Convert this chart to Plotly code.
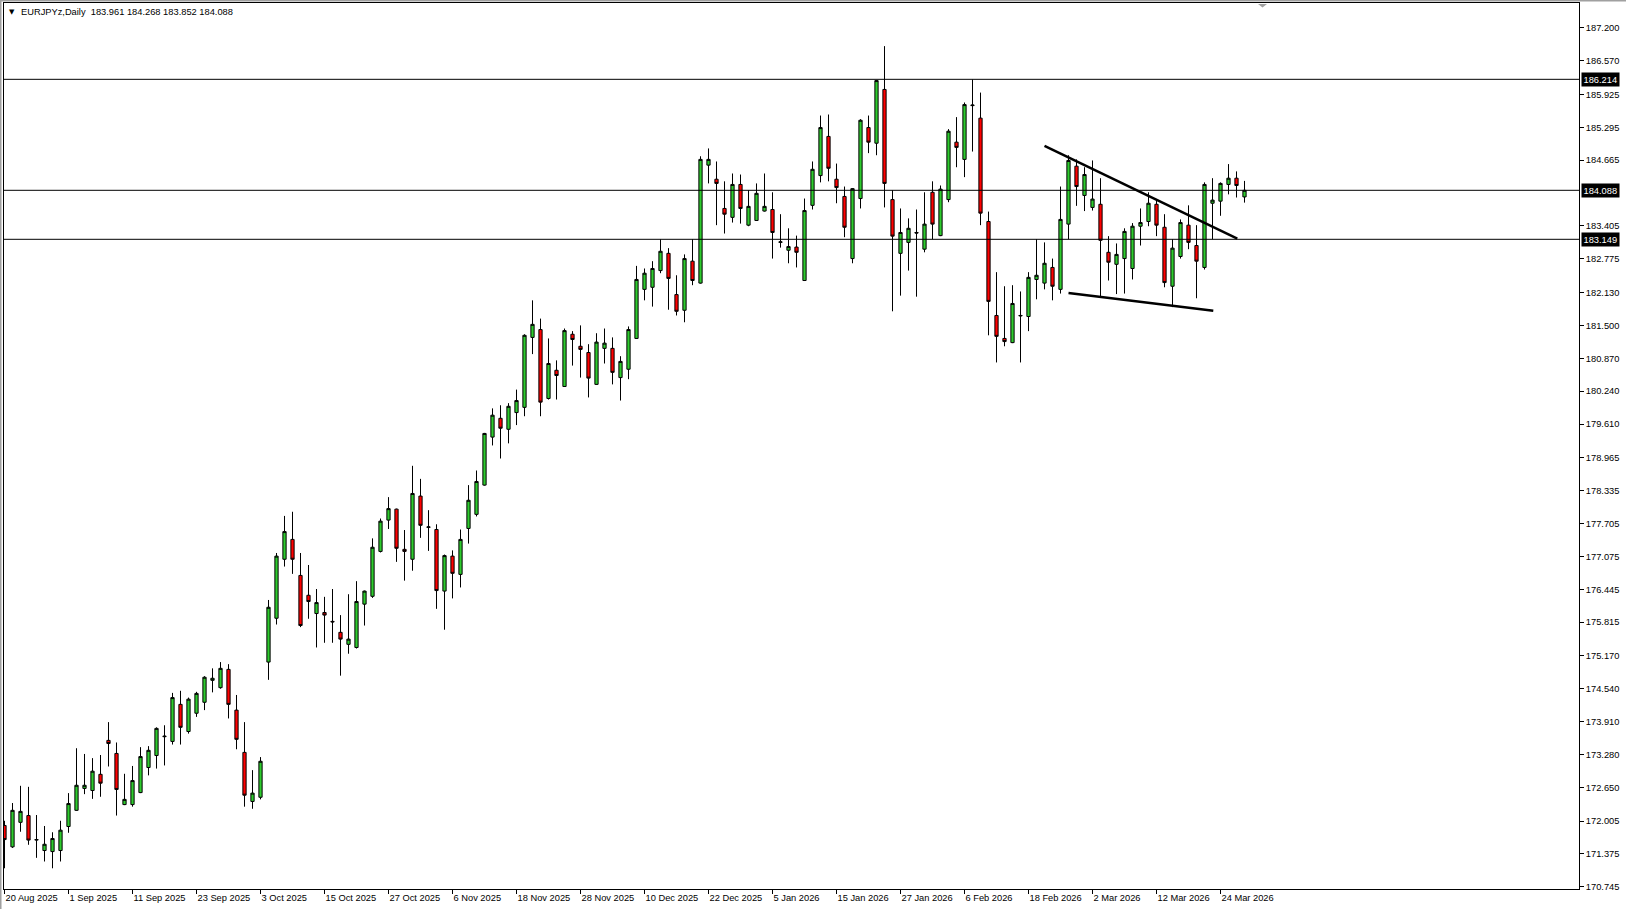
import plotly.graph_objects as go

# ---------------- data (EURJPYz, Daily) ----------------
open_ = [171.92, 171.51, 171.98, 172.11, 171.64, 171.44, 171.42, 171.44, 171.90, 172.21,
         172.63, 172.59, 172.90, 173.55, 173.30, 172.32, 172.32, 172.55, 173.03, 173.26,
         173.62, 173.53, 174.24, 173.72, 174.07, 174.28, 174.70, 174.56, 174.91, 174.13,
         173.32, 172.38, 172.46, 175.05, 175.89, 177.02, 177.40, 176.71, 176.33, 175.98,
         176.00, 175.83, 175.62, 175.39, 175.33, 176.16, 176.31, 177.17, 177.77, 177.98,
         177.21, 177.02, 178.23, 177.63, 177.59, 176.41, 177.08, 176.73, 177.61, 177.88,
         178.44, 179.36, 179.72, 179.51, 179.83, 179.93, 181.27, 181.42, 180.10, 180.64,
         180.33, 181.33, 181.10, 180.98, 180.37, 181.06, 181.06, 180.50, 180.66, 181.25,
         182.19, 182.23, 182.55, 182.88, 182.09, 181.79, 182.73, 182.31, 184.57, 184.30,
         183.74, 183.57, 184.20, 183.42, 183.51, 183.69, 183.72, 183.09, 182.94, 183.00,
         182.36, 183.80, 184.37, 185.12, 184.30, 183.97, 182.78, 183.93, 185.29, 184.99,
         186.02, 183.91, 182.88, 183.09, 183.28, 182.96, 184.05, 183.22, 183.91, 185.01,
         184.68, 185.71, 185.47, 183.49, 181.69, 181.25, 181.17, 181.68, 181.67, 182.38,
         182.31, 182.61, 182.19, 183.44, 184.55, 183.99, 183.76, 183.82, 182.90, 182.67,
         182.78, 182.59, 183.40, 183.49, 183.82, 183.38, 182.25, 182.82, 183.42, 183.03,
         182.61, 183.84, 183.88, 184.20, 184.32, 183.961]
high = [172.01, 172.35, 172.68, 172.66, 172.12, 171.91, 171.79, 172.01, 172.54, 173.40,
        173.29, 173.21, 173.27, 173.90, 173.51, 172.91, 173.06, 173.42, 173.44, 173.80,
        173.84, 174.46, 174.50, 174.37, 174.48, 174.78, 174.93, 175.05, 175.01, 174.42,
        173.90, 172.98, 173.23, 176.24, 177.14, 177.85, 177.93, 177.14, 176.91, 176.45,
        176.30, 176.45, 175.95, 176.35, 176.60, 176.42, 177.42, 177.80, 178.21, 177.99,
        177.58, 178.81, 178.56, 177.96, 177.69, 177.11, 177.19, 177.59, 178.44, 178.72,
        179.44, 179.91, 179.97, 180.01, 180.27, 181.33, 181.98, 181.63, 181.25, 180.83,
        181.44, 181.39, 181.50, 181.14, 181.35, 181.44, 181.27, 180.91, 181.48, 182.64,
        182.59, 182.73, 183.15, 182.98, 182.46, 182.86, 183.15, 184.74, 184.89, 184.64,
        184.26, 184.41, 184.39, 184.09, 184.22, 184.41, 184.05, 183.63, 183.36, 183.22,
        183.93, 184.64, 185.52, 185.54, 184.60, 184.16, 184.13, 185.45, 185.52, 186.20,
        186.85, 184.09, 183.74, 183.55, 183.72, 184.05, 184.26, 184.18, 185.26, 185.49,
        185.77, 186.21, 185.96, 183.68, 182.52, 182.25, 182.27, 182.15, 182.52, 183.15,
        183.09, 182.78, 184.16, 184.76, 184.68, 184.53, 184.66, 184.32, 183.21, 183.07,
        183.36, 183.46, 183.74, 184.05, 183.92, 183.63, 183.15, 183.53, 183.80, 183.42,
        184.24, 184.32, 184.24, 184.59, 184.45, 184.268]
low = [171.10, 171.49, 171.80, 171.55, 171.30, 171.23, 171.10, 171.23, 171.78, 172.20,
       172.52, 172.43, 172.47, 173.05, 172.11, 172.31, 172.28, 172.54, 172.88, 173.01,
       173.07, 173.47, 173.47, 173.68, 174.00, 174.13, 174.47, 174.54, 173.97, 173.38,
       172.28, 172.24, 172.42, 174.71, 175.77, 176.88, 176.74, 175.72, 175.88, 175.33,
       175.42, 175.42, 174.79, 175.21, 175.31, 175.75, 176.28, 177.15, 177.60, 176.97,
       176.61, 176.80, 177.43, 177.18, 176.07, 175.67, 176.27, 176.48, 177.32, 177.84,
       178.43, 179.20, 178.95, 179.24, 179.59, 179.76, 180.95, 179.76, 180.08, 180.08,
       180.32, 180.73, 180.50, 180.12, 180.36, 180.77, 180.37, 180.06, 180.47, 181.24,
       181.98, 181.86, 182.50, 181.80, 181.69, 181.56, 182.27, 182.30, 184.22, 183.42,
       183.26, 183.47, 183.45, 183.40, 183.50, 183.68, 182.78, 182.99, 182.69, 182.61,
       182.35, 183.72, 184.24, 184.26, 183.84, 183.19, 182.69, 183.74, 184.80, 184.76,
       183.76, 181.77, 182.07, 182.55, 182.05, 182.90, 183.15, 183.21, 183.86, 184.53,
       184.34, 184.83, 183.42, 181.31, 180.79, 181.10, 181.16, 180.79, 181.39, 182.00,
       182.19, 181.98, 182.11, 183.15, 183.79, 183.69, 183.70, 182.04, 182.36, 182.10,
       182.11, 182.38, 183.03, 183.40, 183.21, 182.23, 181.85, 182.78, 182.96, 182.02,
       182.57, 183.15, 183.60, 184.01, 183.95, 183.852]
close = [171.65, 172.21, 172.19, 171.64, 171.65, 171.56, 171.67, 171.83, 172.34, 172.69,
         172.69, 172.96, 172.73, 173.49, 172.61, 172.42, 172.78, 173.24, 173.36, 173.78,
         173.63, 174.37, 173.80, 174.34, 174.45, 174.76, 174.74, 174.93, 174.24, 173.57,
         172.50, 172.54, 173.15, 176.10, 177.08, 177.55, 177.02, 175.75, 176.21, 176.19,
         175.95, 175.82, 175.49, 175.49, 176.21, 176.41, 177.25, 177.75, 177.99, 177.23,
         177.17, 178.28, 177.67, 177.64, 176.42, 177.09, 176.75, 177.40, 178.15, 178.51,
         179.43, 179.78, 179.53, 179.95, 180.06, 181.31, 181.52, 180.03, 180.77, 180.54,
         181.40, 181.23, 181.04, 180.49, 181.18, 181.16, 180.60, 180.81, 181.42, 182.38,
         182.50, 182.59, 182.92, 182.40, 181.77, 182.78, 182.36, 184.68, 184.68, 184.22,
         183.63, 184.20, 183.74, 183.78, 184.03, 183.78, 183.28, 183.10, 183.01, 182.90,
         183.70, 184.49, 185.29, 184.51, 184.14, 183.38, 184.12, 185.43, 185.01, 186.19,
         184.22, 183.21, 183.28, 183.36, 183.27, 183.44, 183.44, 184.11, 185.22, 184.91,
         185.73, 185.72, 183.65, 181.96, 181.29, 181.19, 181.92, 181.69, 182.42, 182.46,
         182.69, 182.25, 183.53, 184.66, 184.16, 184.39, 183.92, 183.13, 182.71, 182.86,
         183.30, 183.40, 183.47, 183.84, 183.42, 182.32, 182.98, 183.47, 183.09, 182.73,
         184.20, 183.90, 184.22, 184.32, 184.18, 184.088]

date_labels = ["20 Aug 2025", "1 Sep 2025", "11 Sep 2025", "23 Sep 2025", "3 Oct 2025",
               "15 Oct 2025", "27 Oct 2025", "6 Nov 2025", "18 Nov 2025", "28 Nov 2025",
               "10 Dec 2025", "22 Dec 2025", "5 Jan 2026", "15 Jan 2026", "27 Jan 2026",
               "6 Feb 2026", "18 Feb 2026", "2 Mar 2026", "12 Mar 2026", "24 Mar 2026"]
label_step = 8  # one date label every 8 daily bars

price_ticks = [187.200, 186.570, 185.925, 185.295, 184.665, 183.405, 182.775, 182.130,
               181.500, 180.870, 180.240, 179.610, 178.965, 178.335, 177.705, 177.075,
               176.445, 175.815, 175.170, 174.540, 173.910, 173.280, 172.650, 172.005,
               171.375, 170.745]

h_levels = [186.214, 184.088, 183.149]
# trend lines: (bar index, price) endpoints
trend_upper = [(130.0, 184.94), (154.1, 183.16)]
trend_lower = [(133.0, 182.12), (151.1, 181.78)]

symbol = "EURJPYz,Daily"

# ---------------- figure ----------------
x_idx = list(range(len(close)))
FONT = "Liberation Sans, Arial, sans-serif"
FS = 9.3

fig = go.Figure()
fig.add_trace(go.Candlestick(
    x=x_idx, open=open_, high=high, low=low, close=close,
    increasing=dict(line=dict(color="black", width=1), fillcolor="#2ecc2e"),
    decreasing=dict(line=dict(color="black", width=1), fillcolor="#ff0000"),
    whiskerwidth=0, hoverinfo="skip", showlegend=False,
))

shapes = []
for lv in h_levels:
    shapes.append(dict(type="line", xref="paper", yref="y", x0=0, x1=1, y0=lv, y1=lv,
                       line=dict(color="black", width=1), layer="above"))
for tl in (trend_upper, trend_lower):
    shapes.append(dict(type="line", xref="x", yref="y",
                       x0=tl[0][0], y0=tl[0][1], x1=tl[1][0], y1=tl[1][1],
                       line=dict(color="black", width=2.5), layer="above"))
# chart-shift marker (small grey triangle at top)
shapes.append(dict(type="path", xref="paper", yref="paper",
                   path="M 0.7962 0.9990 L 0.8019 0.9990 L 0.79905 0.9949 Z",
                   fillcolor="#a0a0a0", line=dict(width=0)))
# window border (grey)
shapes.append(dict(type="line", xref="paper", yref="paper", x0=-0.003, x1=1.03,
                   y0=1.0029, y1=1.0029, line=dict(color="#a0a0a0", width=2)))
shapes.append(dict(type="line", xref="paper", yref="paper", x0=-0.0022, x1=-0.0022,
                   y0=-0.03, y1=1.0035, line=dict(color="#a0a0a0", width=2)))

annotations = [
    dict(xref="paper", yref="paper", x=0.0020, y=0.9896, xanchor="left", yanchor="middle",
         text="▼", showarrow=False, font=dict(family="DejaVu Sans", size=7, color="black")),
    dict(xref="paper", yref="paper", x=0.0098, y=0.9896, xanchor="left", yanchor="middle",
         text=f"{symbol}  {open_[-1]:.3f} {high[-1]:.3f} {low[-1]:.3f} {close[-1]:.3f}",
         showarrow=False, font=dict(family=FONT, size=FS, color="black")),
]
for lv in h_levels:
    annotations.append(dict(xref="paper", yref="y", x=1, y=lv, xanchor="left", yanchor="middle",
                            xshift=2, text=f"{lv:.3f}", showarrow=False, bgcolor="black",
                            borderpad=1.5, font=dict(family=FONT, size=FS, color="white")))

fig.update_layout(
    width=1626, height=909,
    margin=dict(l=4, r=47, t=3, b=20, pad=0, autoexpand=False),
    paper_bgcolor="white", plot_bgcolor="white",
    showlegend=False, boxgap=0.42,
    font=dict(family=FONT, size=FS, color="black"),
    shapes=shapes, annotations=annotations,
    hovermode=False,
    xaxis=dict(range=[-0.0625, 196.8125], rangeslider=dict(visible=False),
               tickvals=[i * label_step for i in range(len(date_labels))], ticktext=date_labels,
               tickangle=0, automargin=False,
               ticks="outside", ticklen=4, tickcolor="black", tickwidth=1,
               ticklabelposition="outside right",
               showgrid=False, zeroline=False, showline=True, linecolor="black",
               linewidth=1, mirror=True, tickfont=dict(family=FONT, size=FS, color="black"),
               fixedrange=True),
    yaxis=dict(side="right", range=[170.703, 187.676], automargin=False,
               tickvals=price_ticks, ticktext=[f"{v:.3f}" for v in price_ticks],
               ticks="outside", ticklen=4, tickcolor="black", tickwidth=1,
               showgrid=False, zeroline=False, showline=True, linecolor="black",
               linewidth=1, mirror=True, tickfont=dict(family=FONT, size=FS, color="black"),
               fixedrange=True),
)

fig.write_html("out.html", config={"displayModeBar": False},
               post_script="document.body.style.margin='0';document.body.style.overflow='hidden';")
